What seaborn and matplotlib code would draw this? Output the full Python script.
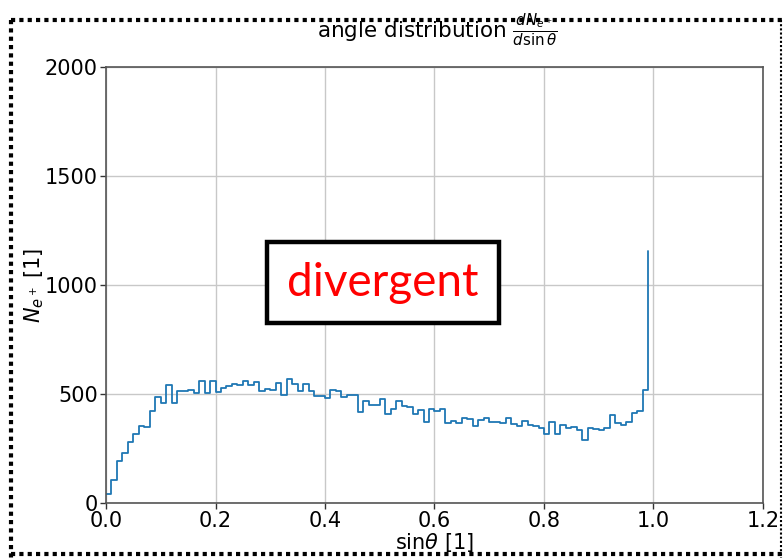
import numpy as np
import pandas as pd
import seaborn as sns
import matplotlib
matplotlib.use("Agg")
import matplotlib.pyplot as plt
from matplotlib.lines import Line2D
from matplotlib.patches import Rectangle

# Histogram of sin(theta) for e+ : left bin edges (width 0.01) and counts per bin
bin_left = np.round(np.arange(0.0, 1.0, 0.01), 2)
counts = [
    40, 106, 194, 228, 278, 317, 355, 350, 424, 488,
    460, 541, 459, 515, 513, 520, 503, 558, 505, 558,
    508, 528, 535, 546, 541, 561, 543, 554, 515, 523,
    520, 549, 497, 570, 546, 512, 546, 515, 491, 491,
    482, 518, 512, 488, 494, 497, 417, 466, 450, 450,
    476, 408, 433, 466, 445, 439, 408, 427, 372, 431,
    422, 430, 365, 374, 365, 388, 384, 355, 381, 388,
    370, 370, 367, 388, 362, 352, 378, 359, 355, 342,
    317, 370, 317, 358, 344, 347, 335, 291, 342, 338,
    335, 344, 405, 367, 356, 370, 411, 424, 518, 1155,
]
x_ticks = [0.0, 0.2, 0.4, 0.6, 0.8, 1.0, 1.2]
y_ticks = [0, 500, 1000, 1500, 2000]

df = pd.DataFrame({"sin_theta": bin_left, "N": counts})

sns.set_theme(style="whitegrid")
plt.rcParams["font.family"] = ["DejaVu Sans"]
plt.rcParams["mathtext.fontset"] = "dejavusans"
plt.rcParams["text.color"] = "black"

fig = plt.figure(figsize=(7.83, 5.58), dpi=100)
ax = fig.add_axes([0.1354, 0.0986, 0.839, 0.781])

sns.lineplot(data=df, x="sin_theta", y="N", ax=ax, color="#1f77b4",
             linewidth=1.3, drawstyle="steps-post")

ax.set_xlim(0, 1.2)
ax.set_ylim(0, 2000)
ax.set_xticks(x_ticks)
ax.set_yticks(y_ticks)
ax.set_xticklabels([f"{t:.1f}" for t in x_ticks])
ax.tick_params(axis="both", labelsize=15, length=4, width=1, color="#333333",
               bottom=True, left=True, pad=2, labelcolor="black")
ax.grid(True, color="#c8c8c8", linewidth=1)
for s in ax.spines.values():
    s.set_color("#555555")
    s.set_linewidth(1.2)

ax.set_xlabel(r"sin$\theta$ [1]", fontsize=15, labelpad=0, color="black")
ax.set_ylabel(r"$N_{e^+}$ [1]", fontsize=15, labelpad=-1, color="black")
fig.text(0.558, 0.945, r"angle distribution $\frac{dN_{e^+}}{d\sin\theta}$",
         ha="center", va="center", fontsize=15.5, color="black")

# Boxed annotation on top of the plot
fig.patches.append(Rectangle((0.341, 0.421), 0.296, 0.145, transform=fig.transFigure,
                             facecolor="white", edgecolor="black", linewidth=3.2,
                             zorder=5))
fig.text(0.489, 0.492, "divergent", ha="center", va="center", color="red",
         fontsize=33, family=["Lato", "DejaVu Sans"], zorder=6)

# Dotted frame around the figure
W, H = 783, 558
def fx(p):
    return p / W
def fy(p):
    return 1 - p / H
frame = [
    ((fx(11), fx(783)), (fy(20), fy(20)), 3.0),
    ((fx(11), fx(11)), (fy(20), fy(558)), 3.0),
    ((fx(11), fx(783)), (fy(554), fy(554)), 3.0),
    ((fx(781), fx(781)), (fy(20), fy(558)), 1.5),
]
for xs, ys, lw in frame:
    fig.lines.append(Line2D(xs, ys, transform=fig.transFigure, color="black",
                            linewidth=lw, linestyle=(0, (1, 1))))

fig.savefig("out.png", dpi=100)
